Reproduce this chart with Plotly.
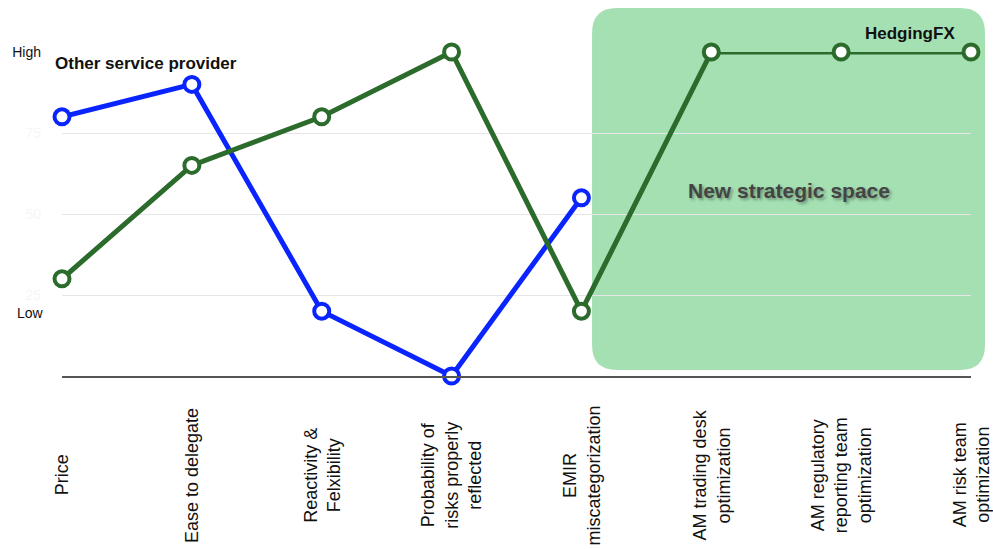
import plotly.graph_objects as go

categories = [
    "Price",
    "Ease to delegate",
    "Reactivity &<br>Felxibility",
    "Probability of<br>risks properly<br>reflected",
    "EMIR<br>miscategorization",
    "AM trading desk<br>optimization",
    "AM regulatory<br>reporting team<br>optimization",
    "AM risk team<br>optimization",
]
other_provider = [80, 90, 20, 0, 55]
hedgingfx = [30, 65, 80, 100, 20, 100, 100, 100]
y_tick_vals = [25, 50, 75, 100]
y_tick_text = ["25", "50", "75", "High"]

FONT = "Liberation Sans, Arial, sans-serif"
BLUE = "#0a24ff"
GREEN = "#2b6b2b"

fig = go.Figure()

fig.add_trace(go.Scatter(
    x=categories[:len(other_provider)], y=other_provider, mode="lines+markers",
    line=dict(color=BLUE, width=5),
    marker=dict(symbol="circle", size=15, color="white", line=dict(color=BLUE, width=4)),
    cliponaxis=False, showlegend=False, hoverinfo="skip",
))
fig.add_trace(go.Scatter(
    x=categories, y=hedgingfx, mode="lines+markers",
    line=dict(color=GREEN, width=5),
    marker=dict(symbol="circle", size=15, color="white", line=dict(color=GREEN, width=4)),
    cliponaxis=False, showlegend=False, hoverinfo="skip",
))

# rounded highlight box (paper coordinates)
x0, x1, yb, yt = 0.5831, 1.0154, 0.0185, 1.1358
rx, ry = 0.0275, 0.0772
path = (f"M {x0+rx},{yb} L {x1-rx},{yb} Q {x1},{yb} {x1},{yb+ry} "
        f"L {x1},{yt-ry} Q {x1},{yt} {x1-rx},{yt} L {x0+rx},{yt} "
        f"Q {x0},{yt} {x0},{yt-ry} L {x0},{yb+ry} Q {x0},{yb} {x0+rx},{yb} Z")
fig.add_shape(type="path", path=path, xref="paper", yref="paper",
              fillcolor="rgba(140,215,158,0.78)", line=dict(width=0), layer="below")

# category labels (rotated, centred below the axis)
for c in categories:
    fig.add_annotation(x=c, y=-0.306, xref="x", yref="paper", text=c,
                       textangle=-90, showarrow=False, xanchor="center", yanchor="middle",
                       align="center", font=dict(family=FONT, size=18, color="#111"))

fig.add_annotation(x=-0.0099, y=0.963, xref="paper", yref="paper",
                   text="<b>Other service provider</b>", showarrow=False,
                   xanchor="left", yanchor="middle", font=dict(family=FONT, size=17, color="#111"))
fig.add_annotation(x=0.933, y=1.0586, xref="paper", yref="paper",
                   text="<b>HedgingFX</b>", showarrow=False,
                   xanchor="center", yanchor="middle", font=dict(family=FONT, size=17, color="#111"))
fig.add_annotation(x=0.7998, y=0.574, xref="paper", yref="paper",
                   text="<b>New strategic space</b>", showarrow=False,
                   xanchor="center", yanchor="middle",
                   font=dict(family=FONT, size=21, color="#444",
                             shadow="2px 2px 3px rgba(0,0,0,0.35)"))
fig.add_annotation(x=-0.0176, y=0.194, xref="paper", yref="paper",
                   text="Low", showarrow=False,
                   xanchor="right", yanchor="middle", font=dict(family=FONT, size=14, color="#111"))

ticktext = [f"<span style='color:#f6f6f6'>{t}</span>" if t != "High" else t for t in y_tick_text]

fig.update_layout(
    width=993, height=549,
    margin=dict(l=62, r=22, t=52, b=173),
    paper_bgcolor="white", plot_bgcolor="rgba(0,0,0,0)",
    font=dict(family=FONT, size=14, color="#111"),
    xaxis=dict(type="category", range=[0, 7], showticklabels=False, showgrid=False,
               showline=True, linecolor="#555", linewidth=2, ticks="", zeroline=False),
    yaxis=dict(range=[0, 100], tickvals=y_tick_vals, ticktext=ticktext,
               showgrid=True, gridcolor="#e6e6e6", gridwidth=1, zeroline=False,
               ticks="", ticklabelstandoff=20, showline=False),
)

fig.write_html("out.html", config={"displayModeBar": False},
               post_script="document.body.style.margin='0';document.body.style.overflow='hidden';")
